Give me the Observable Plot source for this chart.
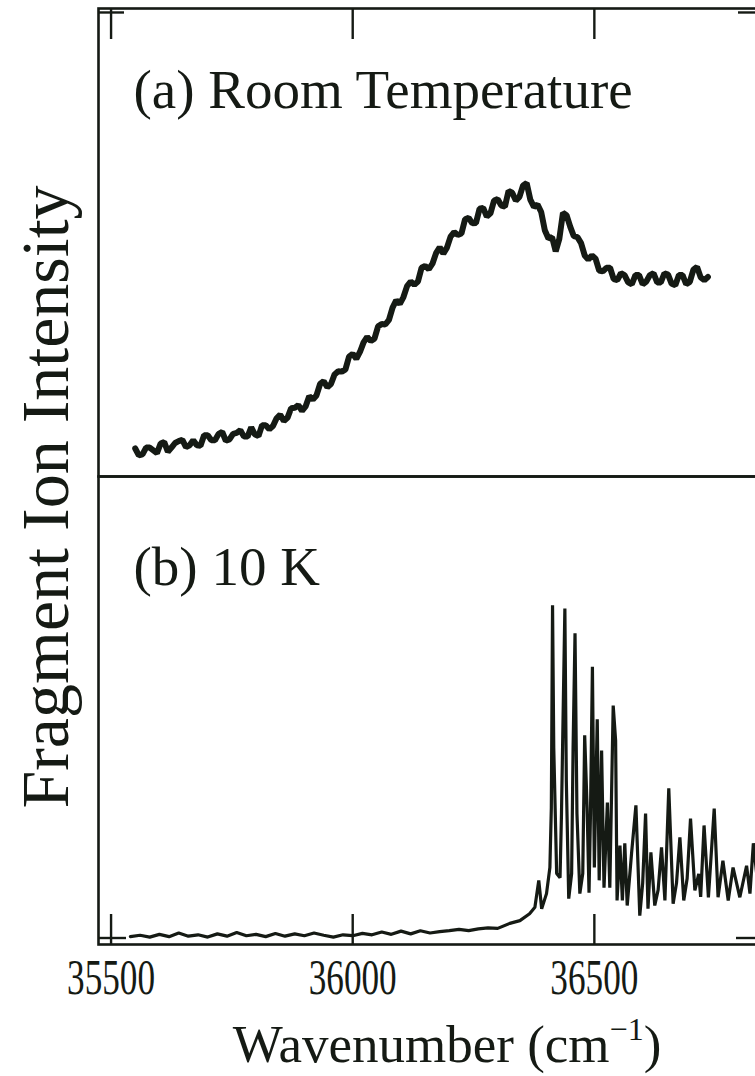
<!DOCTYPE html>
<html>
<head>
<meta charset="utf-8">
<script src="https://cdn.jsdelivr.net/npm/d3@7"></script>
<script src="https://cdn.jsdelivr.net/npm/@observablehq/plot@0.6"></script>
<style>
  html, body { margin: 0; padding: 0; background: #fff; overflow: hidden; }
  #chart { width: 755px; height: 1076px; overflow: hidden; position: relative; }
  #chart svg { max-width: none !important; display: block; }
</style>
</head>
<body>
<div id="chart"></div>
<script>
// ---- Data ----
const xTicks = [35500, 36000, 36500];
const panelLabels = ["(a) Room Temperature", "(b) 10 K"];
const yLabel = "Fragment Ion Intensity";

// (a) Room temperature spectrum: wavenumber (cm-1) and fragment ion intensity (arb. units)
const roomWave = [35550,35565,35580,35595,35610,35625,35640,35655,35670,35685,35700,35715,35730,35745,35760,35775,35790,35805,35820,35835,35850,35865,35880,35895,35910,35925,35940,35955,35970,35985,36000,36015,36030,36045,36060,36075,36090,36105,36120,36135,36150,36165,36180,36195,36210,36225,36240,36255,36270,36285,36300,36315,36330,36345,36360,36375,36390,36405,36420,36435,36450,36465,36480,36495,36510,36525,36540,36555,36570,36585,36600,36615,36630,36645,36660,36675,36690,36705,36720,36735];
const roomInt = [4.7,3.4,4.9,3.7,6.1,4.9,6.3,5.0,6.5,5.3,7.6,6.5,8.3,6.7,8.1,7.3,9.3,7.4,9.8,9.6,12.1,11.4,13.6,12.9,16.1,16.3,19.4,18.8,21.6,22.0,25.4,25.8,29.1,28.7,31.9,32.8,37.1,37.8,41.2,41.2,44.6,45.1,48.7,48.6,52.0,51.7,55.1,54.0,57.3,56.1,59.2,57.6,60.6,59.7,62.7,57.5,56.4,50.6,47.8,56.2,53.2,50.9,46.9,46.9,43.6,44.2,41.7,43.0,41.0,42.6,40.6,42.6,41.0,43.0,40.7,42.6,40.6,43.8,42.1,42.2];
// in-between samples of the same noisy trace
const roomWaveMid = [35557.5,35572.5,35587.5,35602.5,35617.5,35632.5,35647.5,35662.5,35677.5,35692.5,35707.5,35722.5,35737.5,35752.5,35767.5,35782.5,35797.5,35812.5,35827.5,35842.5,35857.5,35872.5,35887.5,35902.5,35917.5,35932.5,35947.5,35962.5,35977.5,35992.5,36007.5,36022.5,36037.5,36052.5,36067.5,36082.5,36097.5,36112.5,36127.5,36142.5,36157.5,36172.5,36187.5,36202.5,36217.5,36232.5,36247.5,36262.5,36277.5,36292.5,36307.5,36322.5,36337.5,36352.5,36367.5,36382.5,36397.5,36412.5,36427.5,36442.5,36457.5,36472.5,36487.5,36502.5,36517.5,36532.5,36547.5,36562.5,36577.5,36592.5,36607.5,36622.5,36637.5,36652.5,36667.5,36682.5,36697.5,36712.5,36727.5];
const roomIntMid = [3.2,4.9,4.3,5.8,4.0,5.9,6.6,5.4,5.4,7.6,6.5,7.9,6.4,7.9,8.7,7.3,7.8,9.8,8.9,11.3,10.7,13.5,14.2,13.9,15.4,18.8,18.1,20.9,21.5,24.8,24.3,27.9,28.2,31.4,31.8,35.5,36.3,40.2,40.5,44.2,43.9,47.4,47.3,51.0,51.4,54.8,53.9,57.1,55.4,58.9,57.8,61.0,58.9,62.2,59.1,58.0,52.4,50.9,50.5,55.7,51.1,49.6,46.0,46.2,43.4,44.2,41.5,42.6,40.6,42.6,41.2,43.0,41.0,42.7,40.4,42.6,41.1,44.4,41.5];

// (b) 10 K spectrum
const coldWave = [35540,35560,35580,35600,35620,35640,35660,35680,35700,35720,35740,35760,35780,35800,35820,35840,35860,35880,35900,35920,35940,35960,35980,36000,36020,36040,36060,36080,36100,36120,36140,36160,36180,36200,36220,36240,36260,36280,36300,36325,36346,36366,36377,36385,36391,36401,36408,36411,36413.5,36416,36422,36429,36432,36439,36442,36447,36453,36456,36460,36464,36470,36476,36480,36485,36489,36492,36496,36500,36506,36510,36515,36520,36527,36532,36539,36544,36547,36553,36558,36563,36568,36577,36586,36594,36600,36606,36611,36617,36625,36632,36639,36646,36654,36663,36670,36677,36685,36692,36699,36708,36716,36720,36727,36736,36748,36756,36766,36777,36787,36801,36815,36822,36829,36840];
const coldInt = [0.3,0.6,0.2,0.8,0.3,1.1,0.4,0.7,0.2,0.9,0.4,1.2,0.5,0.8,0.3,1.0,0.4,0.9,0.5,1.1,0.6,0.2,0.7,0.5,1.0,0.7,1.3,0.8,1.5,0.9,1.6,1.1,1.4,1.6,1.9,1.6,2.0,2.2,2.1,3.2,3.8,5.3,6.7,12.6,6.4,9.7,15.4,28.5,72.7,41.6,14.1,13.2,27.2,72.0,34.4,8.6,14.1,41.6,66.6,27.2,9.7,14.1,44.3,28.5,9.9,27.2,59.3,15.4,47.8,12.6,41.0,11.0,29.6,11.0,50.8,43.2,8.2,20.2,8.2,20.7,7.1,18.5,29.0,4.9,12.0,27.2,6.4,18.7,7.1,10.5,19.8,8.2,32.7,7.5,12.0,22.0,8.2,13.0,26.1,10.4,14.0,9.0,24.6,8.9,28.3,8.9,16.9,8.2,15.4,8.9,15.8,9.7,20.7,10.0];

// ---- Build tables ----
const room = roomWave.map((w, i) => ({panel: "a", w, v: roomInt[i]}))
  .concat(roomWaveMid.map((w, i) => ({panel: "a", w, v: roomIntMid[i]})))
  .sort((a, b) => a.w - b.w);
const cold = coldWave.map((w, i) => ({panel: "b", w, v: coldInt[i]}));
const labelsA = [{panel: "a", t: panelLabels[0]}];
const labelsB = [{panel: "b", t: panelLabels[1]}];

const ink = "#151a14";
const font = "'Liberation Serif', 'Times New Roman', serif";

const chart = Plot.plot({
  width: 763,
  height: 1076,
  marginTop: 8,
  marginBottom: 132,
  marginLeft: 98,
  marginRight: 0,
  style: {fontFamily: font, color: ink, background: "white", overflow: "visible", maxWidth: "none"},
  x: {domain: [35474, 36850]},
  y: {domain: [-1.42, 100.87]},
  fy: {domain: ["a", "b"], axis: null, padding: 0},
  marks: [
    Plot.frame({stroke: ink, strokeWidth: 2.6}),
    Plot.line(room, {x: "w", y: "v", fy: "panel", stroke: ink, strokeWidth: 6, strokeLinejoin: "miter"}),
    Plot.line(cold, {x: "w", y: "v", fy: "panel", stroke: ink, strokeWidth: 3.2, strokeLinejoin: "miter"}),
    Plot.axisX({anchor: "top", facetAnchor: "top", ticks: xTicks, tickSize: -30, tickFormat: () => "", label: null, strokeWidth: 2.4, stroke: ink}),
    Plot.axisX({anchor: "bottom", facetAnchor: "bottom", ticks: xTicks, tickSize: -30, tickPadding: 44, tickFormat: d3.format("d"), fontSize: 50, label: null, strokeWidth: 2.4, stroke: ink, fill: ink}),
    Plot.axisY({anchor: "left", facetAnchor: "top", ticks: [100], tickSize: -26, tickFormat: () => "", label: null, strokeWidth: 2.4, stroke: ink}),
    Plot.axisY({anchor: "right", facetAnchor: "top", ticks: [100], tickSize: -26, tickFormat: () => "", label: null, strokeWidth: 2.4, stroke: ink}),
    Plot.axisY({anchor: "left", facetAnchor: "bottom", ticks: [0], tickSize: -28, tickFormat: () => "", label: null, strokeWidth: 2.4, stroke: ink}),
    Plot.axisY({anchor: "right", facetAnchor: "bottom", ticks: [0], tickSize: -28, tickFormat: () => "", label: null, strokeWidth: 2.4, stroke: ink}),
    Plot.text(labelsA, {fy: "panel", text: "t", frameAnchor: "top-left", textAnchor: "start", lineAnchor: "top", dx: 35, dy: 60, fontSize: 55, fill: ink}),
    Plot.text(labelsB, {fy: "panel", text: "t", frameAnchor: "top-left", textAnchor: "start", lineAnchor: "top", dx: 35, dy: 69, fontSize: 55, fill: ink})
  ]
});

document.getElementById("chart").appendChild(chart);

// condensed tick numerals, as in the reference
d3.select(chart).selectAll("g[aria-label='x-axis tick label'] text")
  .filter(function () { return this.textContent.length > 0; })
  .attr("textLength", 88)
  .attr("lengthAdjust", "spacingAndGlyphs");

// Axis titles
const svg = d3.select(chart);
svg.append("text")
  .attr("transform", "translate(68,497) rotate(-90)")
  .attr("text-anchor", "middle")
  .attr("font-family", font)
  .attr("font-size", 68)
  .attr("fill", ink)
  .text(yLabel);

const xl = svg.append("text")
  .attr("x", 447)
  .attr("y", 1062)
  .attr("text-anchor", "middle")
  .attr("font-family", font)
  .attr("font-size", 53)
  .attr("fill", ink);
xl.append("tspan").text("Wavenumber (cm");
xl.append("tspan").attr("font-size", 32).attr("dy", -22).text("\u22121");
xl.append("tspan").attr("dy", 22).text(")");
</script>
</body>
</html>
